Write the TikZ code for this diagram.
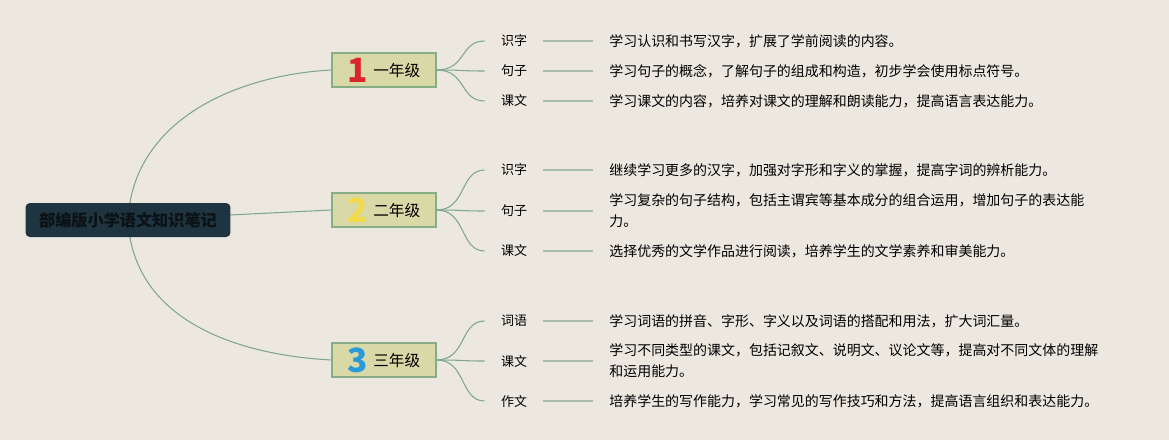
\documentclass[tikz,border=0pt]{standalone}
\usepackage{fontspec}
\setmainfont{Noto Sans CJK SC}
\definecolor{paper}{HTML}{ECE8E0}
\definecolor{rootfill}{HTML}{1E3441}
\definecolor{rootink}{HTML}{0B1114}
\definecolor{gradefill}{HTML}{D9D8A7}
\definecolor{gradeline}{HTML}{86AD86}
\definecolor{branchline}{HTML}{7FA68C}
\definecolor{stubline}{HTML}{A7BFA9}
\definecolor{numred}{HTML}{D9262C}
\definecolor{numyellow}{HTML}{F2DA4A}
\definecolor{numblue}{HTML}{2B9AD8}
\newcommand{\gradenum}[2]{\raisebox{-3.4pt}{\fontsize{19}{19}\selectfont\bfseries\color{#1}#2}\hspace{3pt}}
\pgfdeclarelayer{background}
\pgfsetlayers{background,main}
\tikzset{
  rootbox/.style={fill=rootfill, rounded corners=2.5pt, minimum width=4.1cm, minimum height=0.68cm,
    inner sep=0pt, text=rootink, font=\fontsize{9.2}{12}\selectfont\bfseries},
  gradebox/.style={fill=gradefill, draw=gradeline, line width=0.7pt, minimum width=2.08cm,
    minimum height=0.68cm, inner sep=0pt, font=\fontsize{8.9}{11}\selectfont},
  topic/.style={inner xsep=0.32cm, inner ysep=0pt, font=\fontsize{7.4}{10}\selectfont},
  desc/.style={anchor=west, align=left, inner xsep=0.32cm, inner ysep=0pt,
    font=\fontsize{7.95}{11.9}\selectfont},
  branch/.style={draw=branchline, line width=0.6pt},
  stub/.style={draw=stubline, line width=1.1pt}
}
\begin{document}
\begin{tikzpicture}[x=0.02cm, y=-0.02cm]

    \useasboundingbox (0,0) rectangle (1169,440);
    \begin{pgfonlayer}{background}
      \fill[paper] (0,0) rectangle (1169,440);
    \end{pgfonlayer}

    % root
    \node[rootbox] (root) at (128,220) {部编版小学语文知识笔记};

    % grades
    \node[gradebox] (g1) at (384,70)  {\gradenum{numred}{1}一年级};
    \node[gradebox] (g2) at (384,210) {\gradenum{numyellow}{2}二年级};
    \node[gradebox] (g3) at (384,360) {\gradenum{numblue}{3}三年级};

    % grade 1
    \node[topic] (t1a) at (514,41)  {识字};
    \node[topic] (t1b) at (514,71)  {句子};
    \node[topic] (t1c) at (514,101) {课文};
    \node[desc] (d1a) at (593,41)  {学习认识和书写汉字，扩展了学前阅读的内容。};
    \node[desc] (d1b) at (593,71)  {学习句子的概念，了解句子的组成和构造，初步学会使用标点符号。};
    \node[desc] (d1c) at (593,101) {学习课文的内容，培养对课文的理解和朗读能力，提高语言表达能力。};

    % grade 2
    \node[topic] (t2a) at (514,170) {识字};
    \node[topic] (t2b) at (514,211) {句子};
    \node[topic] (t2c) at (514,251) {课文};
    \node[desc] (d2a) at (593,170) {继续学习更多的汉字，加强对字形和字义的掌握，提高字词的辨析能力。};
    \node[desc] (d2b) at (593,211) {学习复杂的句子结构，包括主谓宾等基本成分的组合运用，增加句子的表达能\\力。};
    \node[desc] (d2c) at (593,251) {选择优秀的文学作品进行阅读，培养学生的文学素养和审美能力。};

    % grade 3
    \node[topic] (t3a) at (514,321) {词语};
    \node[topic] (t3b) at (514,361) {课文};
    \node[topic] (t3c) at (514,401) {作文};
    \node[desc] (d3a) at (593,321) {学习词语的拼音、字形、字义以及词语的搭配和用法，扩大词汇量。};
    \node[desc] (d3b) at (593,361) {学习不同类型的课文，包括记叙文、说明文、议论文等，提高对不同文体的理解\\和运用能力。};
    \node[desc] (d3c) at (593,401) {培养学生的写作能力，学习常见的写作技巧和方法，提高语言组织和表达能力。};

    % connectors (under the boxes)
    \begin{pgfonlayer}{background}
      \draw[branch] (root.center) .. controls +(5,-100) and +(-95,5) .. (g1.west);
      \draw[branch] (root.center) -- (g2.west);
      \draw[branch] (root.center) .. controls +(5,100) and +(-95,-5) .. (g3.west);
      \foreach \g in {1,2,3}{
        \foreach \t in {a,b,c}{
          \draw[branch] (g\g.east) .. controls +(30,0) and +(-25,0) .. (t\g\t.west);
          \draw[stub] (t\g\t.east) -- (d\g\t.west);
        }
      }
    \end{pgfonlayer}

  \end{tikzpicture}
\end{document}
